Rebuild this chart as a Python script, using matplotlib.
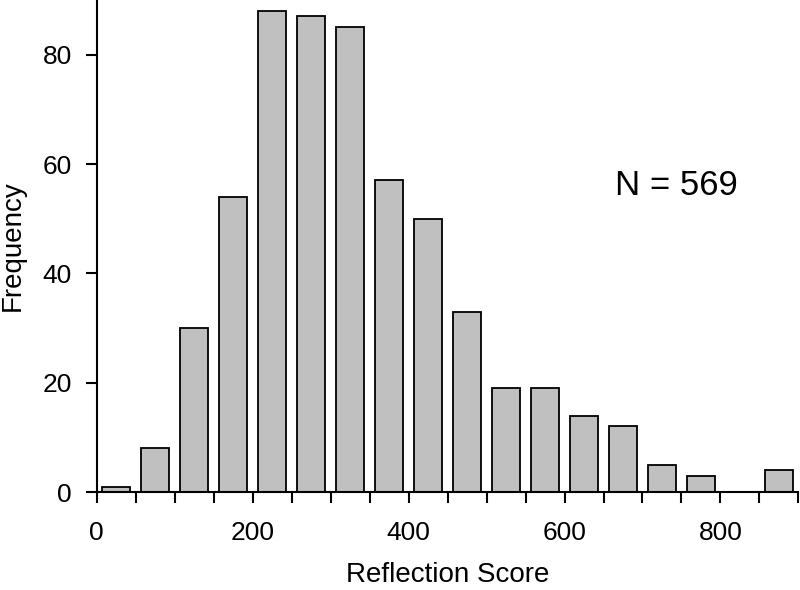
import matplotlib.pyplot as plt
from matplotlib.ticker import MultipleLocator

plt.rcParams['font.family'] = ['Liberation Sans', 'DejaVu Sans']

# histogram bins of width 50, from 0 to 900
bin_left = [0, 50, 100, 150, 200, 250, 300, 350, 400, 450,
            500, 550, 600, 650, 700, 750, 800, 850]
counts = [1, 8, 30, 54, 88, 87, 85, 57, 50, 33,
          19, 19, 14, 12, 5, 3, 0, 4]
bin_width = 50
n_total = sum(counts)

centers = [b + bin_width / 2 for b in bin_left]

fig = plt.figure(figsize=(8, 5.9), dpi=100)
ax = fig.add_axes([0.121, 0.166, 0.877, 0.834])

ax.bar(centers, counts, width=bin_width * 0.72, color="#c0c0c0",
       edgecolor="black", linewidth=1.3)

ax.set_xlim(0, 900)
ax.set_ylim(0, 90)
ax.xaxis.set_major_locator(MultipleLocator(200))
ax.xaxis.set_minor_locator(MultipleLocator(50))
ax.yaxis.set_major_locator(MultipleLocator(20))

ax.spines["top"].set_visible(False)
ax.spines["right"].set_visible(False)
ax.spines["left"].set_linewidth(1.5)
ax.spines["bottom"].set_linewidth(1.5)

ax.tick_params(axis="both", which="both", direction="out", width=1.5,
               length=8, labelsize=19)
ax.tick_params(axis="x", pad=13)
ax.tick_params(axis="y", pad=10)

ax.set_xlabel("Reflection Score", fontsize=20, labelpad=12)
ax.set_ylabel("Frequency", fontsize=20, labelpad=12)

ax.text(743, 56, f"N = {n_total}", fontsize=25, ha="center", va="center")

fig.savefig("out.png", dpi=100)
